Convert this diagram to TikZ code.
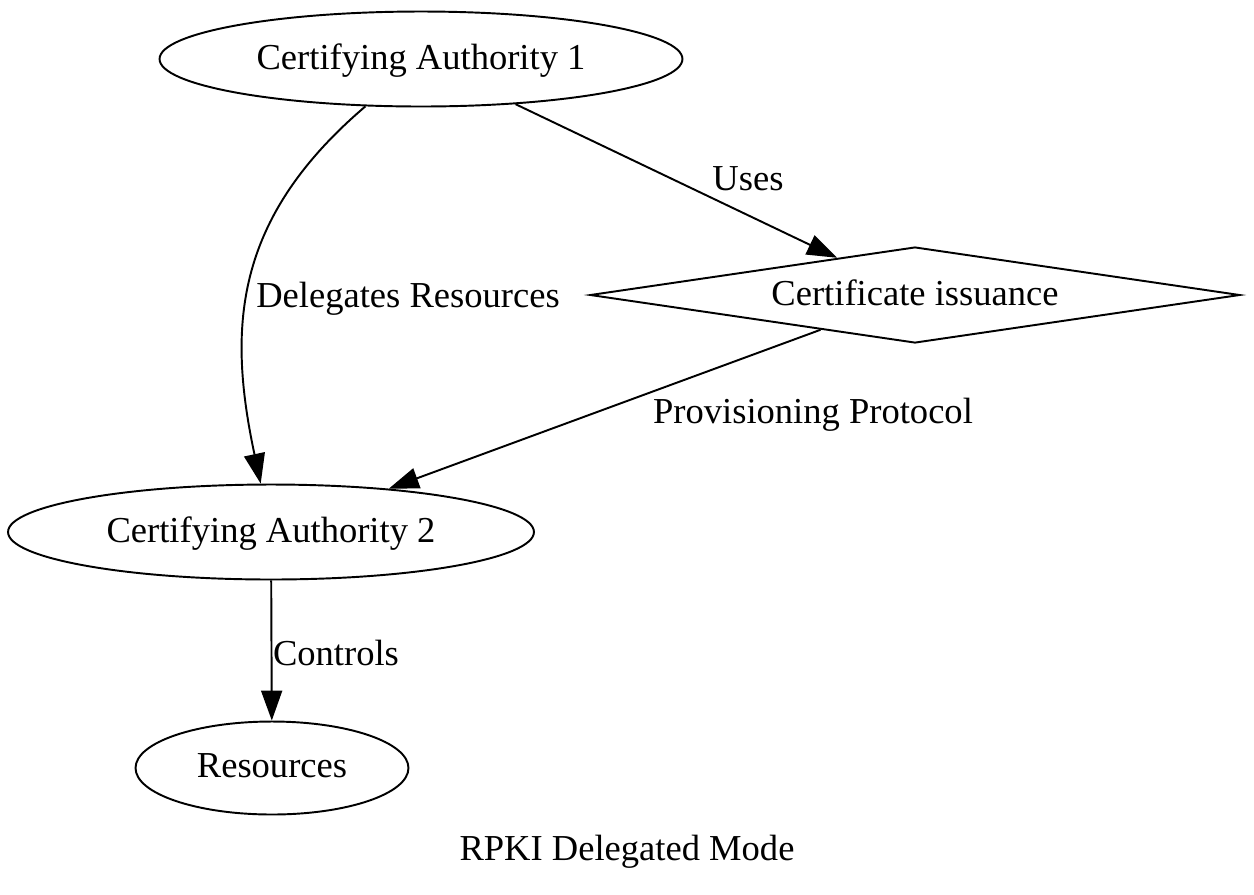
\documentclass[tikz,border=0pt]{standalone}
\usepackage{fontspec}
\setmainfont{Liberation Serif}
\usetikzlibrary{shapes.geometric,arrows.meta}
\tikzset{
	ca/.style={draw,ellipse,line width=1.1pt,inner sep=0pt,text depth=0.3em},
	cert/.style={draw,diamond,aspect=6.8,line width=1.1pt,inner sep=0pt,text depth=0.3em,minimum width=13cm,minimum height=1.92cm},
	edge/.style={line width=1.1pt,-{Triangle[length=0.6cm,width=0.42cm]}}
}
\begin{document}
\begin{tikzpicture}[x=0.02cm,y=-0.02cm,font=\fontsize{20.8}{25}\selectfont]% toạ độ tính theo pixel
	\useasboundingbox (0,0) rectangle (1254,894);
	\node[ca,minimum width=10.46cm,minimum height=1.9cm] (ca1) at (421,59) {Certifying Authority 1};
	\node[cert] (cert) at (915,295) {Certificate issuance};
	\node[ca,minimum width=10.52cm,minimum height=1.9cm] (ca2) at (271,532) {Certifying Authority 2};
	\node[ca,minimum width=5.46cm,minimum height=1.86cm] (res) at (272,768) {Resources};
	\draw[edge] (ca1) -- (cert);
	\draw[edge] (ca1) .. controls (232,220) and (228,330) .. (ca2);
	\draw[edge] (cert) -- (ca2);
	\draw[edge] (ca2) -- (res);
	\path (748,179) node (uses) {Uses}
		(408,299) node (deleg) {Delegates Resources}
		(813,415) node (prov) {Provisioning Protocol}
		(336,653) node (ctrl) {Controls};
	\path (627,852) node (title) {RPKI Delegated Mode};
\end{tikzpicture}
\end{document}
